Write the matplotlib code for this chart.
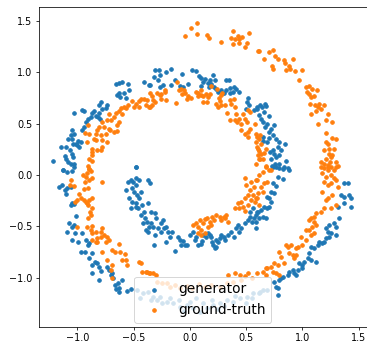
import numpy as np
import matplotlib
matplotlib.use("Agg")
import matplotlib.pyplot as plt

series_labels = ["generator", "ground-truth"]

generator_xy = [
    (-0.661,0.883),(-0.631,0.896),(-0.607,0.906),(-0.548,0.883),(-0.542,0.825),(-0.587,0.802),(-0.631,0.799),
    (-0.646,0.776),(-0.622,0.760),(-0.566,0.753),(-0.406,0.906),(-0.364,0.873),(-0.794,0.711),(-0.809,0.679),
    (-0.735,0.679),(-0.750,0.653),(-0.785,0.646),(-0.809,0.604),(-0.853,0.623),(-0.874,0.604),(-0.839,0.571),
    (-0.883,0.565),(-0.904,0.545),(-0.957,0.630),(-0.942,0.623),(-1.031,0.604),(-0.927,0.516),(-0.942,0.468),
    (-0.957,0.442),(-0.815,0.565),(-0.803,0.549),(-1.046,0.435),(-1.061,0.386),(-1.081,0.354),(-1.046,0.354),
    (-1.031,0.403),(-1.016,0.305),(-0.993,0.331),(-1.001,0.289),(-0.972,0.321),(-0.987,0.273),(-1.040,0.305),
    (-1.105,0.273),(-1.150,0.273),(-1.067,0.240),(-1.046,0.208),(-1.111,0.182),(-1.099,0.159),(-1.081,0.127),
    (-1.061,0.110),(-1.031,0.110),(-1.040,0.175),(-1.215,0.136),(-1.129,0.052),(-0.483,0.078),
    # top arc
    (-0.308,1.019),(-0.276,1.026),(-0.210,1.003),(-0.172,1.029),(-0.320,0.955),(-0.270,0.971),(-0.284,0.922),
    (-0.359,0.880),(-0.270,0.857),(-0.240,0.873),(-0.166,0.880),(-0.130,0.922),(-0.068,0.987),(0.021,1.019),
    (0.056,1.010),(0.077,0.964),(0.101,0.948),(0.130,0.938),(0.175,0.929),(0.204,0.971),(0.219,0.929),
    (0.116,0.906),(0.101,0.867),(0.169,0.857),(0.160,0.896),(0.190,0.883),(0.210,0.857),(0.234,0.841),
    (0.249,0.808),(0.323,0.929),(0.344,0.929),(0.273,0.825),(0.323,0.831),(0.353,0.851),(0.391,0.857),
    (0.412,0.841),(0.433,0.808),(0.302,0.799),(0.353,0.799),(0.382,0.808),(-0.018,0.890),(-0.062,0.857),
    (-0.092,0.864),(0.516,0.753),(0.510,0.711),(0.524,0.685),(0.501,0.646),(0.569,0.630),(0.599,0.662),
    (0.619,0.679),
    # right inner arm
    (0.601,0.646),(0.640,0.662),(0.670,0.695),(0.676,0.669),(0.661,0.614),(0.616,0.581),(0.631,0.549),
    (0.699,0.571),(0.652,0.516),(0.690,0.500),(0.670,0.468),(0.705,0.419),(0.750,0.484),(0.720,0.451),
    (0.741,0.386),(0.705,0.364),(0.690,0.321),(0.652,0.331),(0.764,0.354),(0.788,0.321),(0.779,0.273),
    (0.735,0.247),(0.711,0.224),(0.750,0.208),(0.764,0.175),(0.794,0.192),(0.847,0.305),(0.809,0.240),
    (0.859,0.136),(0.646,0.370),(0.729,0.084),(0.759,0.110),(0.770,0.078),(0.788,0.104),(0.830,0.062),
    (0.877,0.052),(0.720,0.159),
    (0.735,0.081),(0.794,0.071),(0.839,0.081),(0.868,0.071),(0.779,-0.016),(0.830,-0.039),(0.735,-0.081),
    (0.764,-0.104),(0.720,-0.162),(0.750,-0.179),(0.690,-0.211),(0.705,-0.227),(0.720,-0.260),(0.705,-0.308),
    (0.661,-0.308),(0.690,-0.325),(0.631,-0.341),(0.601,-0.357),(0.646,-0.406),(0.676,-0.416),(0.616,-0.422),
    (0.587,-0.455),(0.587,-0.519),
    # left outer arm
    (-1.129,0.049),(-1.090,0.032),(-1.046,0.039),(-1.031,0.081),(-1.164,-0.114),(-1.135,-0.097),(-1.111,-0.146),
    (-1.090,-0.130),(-1.061,-0.114),(-1.105,-0.188),(-1.046,-0.276),(-1.061,-0.292),(-1.031,-0.286),
    (-1.010,-0.396),(-1.076,-0.471),(-1.046,-0.503),(-1.031,-0.487),(-1.090,-0.552),(-1.022,-0.568),
    (-1.046,-0.633),(-0.993,-0.656),(-0.963,-0.568),(-0.927,-0.633),(-0.904,-0.682),(-0.898,-0.666),
    (-0.972,-0.753),(-0.933,-0.753),(-0.874,-0.763),(-0.898,-0.812),(-0.844,-0.844),(-0.824,-0.860),
    (-0.809,-0.893),(-0.868,-0.877),(-0.794,-0.935),(-0.735,-0.893),(-0.720,-0.925),(-0.874,-0.958),
    (-0.809,-1.023),(-0.705,-0.974),(-0.690,-0.958),(-0.684,-1.006),(-0.637,-1.055),(-0.667,-1.071),
    (-0.631,-1.097),(-0.601,-1.023),(-0.655,-1.110),(-0.631,-1.136),(-0.557,-1.130),(-0.527,-1.110),
    # inner start
    (-0.483,0.081),(-0.548,-0.065),(-0.527,-0.049),(-0.507,-0.065),(-0.477,-0.032),(-0.453,-0.049),
    (-0.483,-0.097),(-0.513,-0.130),(-0.566,-0.146),(-0.498,-0.162),(-0.468,-0.195),(-0.439,-0.162),
    (-0.542,-0.227),(-0.513,-0.260),(-0.483,-0.276),(-0.453,-0.227),(-0.424,-0.292),(-0.459,-0.318),
    (-0.409,-0.357),(-0.439,-0.390),(-0.400,-0.422),(-0.379,-0.455),(-0.418,-0.471),(-0.364,-0.503),
    (-0.394,-0.536),(-0.370,-0.552),(-0.483,-0.308),(-0.527,-0.318),
    # inner bottom arc
    (-0.373,-0.049),(-0.359,-0.081),(-0.373,-0.276),(-0.344,-0.357),(-0.314,-0.373),(-0.299,-0.422),
    (-0.350,-0.471),(-0.329,-0.503),(-0.284,-0.519),(-0.261,-0.471),(-0.240,-0.438),(-0.231,-0.519),
    (-0.210,-0.503),(-0.196,-0.552),(-0.255,-0.552),(-0.314,-0.584),(-0.320,-0.682),(-0.210,-0.649),
    (-0.181,-0.601),(-0.160,-0.552),(-0.107,-0.601),(-0.092,-0.633),(-0.062,-0.643),(-0.047,-0.682),
    (-0.136,-0.740),(-0.077,-0.682),(-0.024,-0.682),(-0.003,-0.584),(0.027,-0.552),(0.041,-0.633),
    (0.056,-0.601),(0.071,-0.682),(0.101,-0.675),(0.107,-0.643),(0.116,-0.584),(0.145,-0.601),
    (0.160,-0.568),(0.175,-0.584),(0.190,-0.601),(0.196,-0.649),(0.204,-0.682),(0.219,-0.714),
    (0.234,-0.698),(0.234,-0.633),(0.249,-0.656),(0.264,-0.617),(0.279,-0.584),(0.302,-0.601),
    (0.308,-0.633),(0.338,-0.584),(0.367,-0.552),(0.391,-0.601),(0.412,-0.519),(0.427,-0.487),
    (0.441,-0.552),(0.456,-0.519),(0.486,-0.471),(0.516,-0.438),(0.530,-0.406),(0.551,-0.455),
    (0.569,-0.422),(0.590,-0.390),(0.604,-0.357),(0.560,-0.325),(0.530,-0.357),
    # right outer arm
    (1.372,-0.081),(1.410,-0.081),(1.342,-0.195),(1.372,-0.211),(1.416,-0.195),(1.431,-0.227),(1.372,-0.276),
    (1.431,-0.308),(1.313,-0.308),(1.322,-0.422),(1.283,-0.471),(1.239,-0.487),(1.298,-0.503),(1.209,-0.519),
    (1.224,-0.552),(1.253,-0.568),(1.298,-0.584),(1.239,-0.601),(1.209,-0.617),(1.194,-0.649),(1.150,-0.649),
    (1.179,-0.666),(1.135,-0.682),(1.076,-0.698),(1.105,-0.714),(1.061,-0.763),(1.046,-0.812),(1.076,-0.828),
    (1.120,-0.844),(1.016,-0.844),(1.001,-0.877),(0.972,-0.860),(1.001,-0.909),(0.957,-0.925),(0.913,-0.925),
    (0.883,-0.942),(0.927,-0.958),(0.942,-0.974),(0.868,-0.974),(0.824,-0.990),(0.794,-1.023),(0.809,-1.006),
    (0.750,-1.039),(0.764,-1.088),(0.779,-1.104),(0.779,-1.169),(0.646,-1.120),(0.690,-1.120),(0.616,-1.153),
    # bottom arc (under legend)
    (-0.474,-1.120),(-0.415,-1.153),(-0.370,-1.136),(-0.326,-1.185),(-0.296,-1.218),(-0.267,-1.185),
    (-0.207,-1.234),(-0.148,-1.250),(-0.089,-1.282),(-0.030,-1.266),(0.030,-1.299),(0.089,-1.331),
    (0.148,-1.299),(0.207,-1.266),(0.267,-1.250),(0.326,-1.218),(0.385,-1.234),(0.444,-1.201),
    (0.504,-1.185),(0.563,-1.153),(0.622,-1.136),(-0.44,-1.20),(-0.35,-1.22),(-0.25,-1.25),(-0.18,-1.20),
    (-0.10,-1.22),(0.00,-1.24),(0.05,-1.20),(0.12,-1.25),(0.20,-1.22),(0.30,-1.28),(0.40,-1.18),
    (0.50,-1.25),(0.55,-1.20),(-0.05,-1.32),(0.25,-1.30),
]

ground_truth_xy = [
    # upper-left arc
    (-0.519,0.721),(-0.483,0.695),(-0.453,0.718),(-0.439,0.744),(-0.409,0.744),(-0.379,0.734),(-0.364,0.662),
    (-0.394,0.679),(-0.453,0.662),(-0.498,0.662),(-0.548,0.685),(-0.566,0.653),(-0.587,0.662),(-0.616,0.653),
    (-0.631,0.620),(-0.607,0.597),(-0.661,0.604),(-0.676,0.565),(-0.631,0.516),(-0.646,0.484),(-0.705,0.532),
    (-0.735,0.532),(-0.720,0.597),(-0.779,0.516),(-0.764,0.468),(-0.809,0.468),(-0.824,0.435),(-0.839,0.403),
    (-0.794,0.386),(-0.779,0.338),(-0.750,0.403),(-0.720,0.451),(-0.714,0.435),(-0.676,0.419),(-0.646,0.429),
    (-0.853,0.354),(-0.898,0.403),(-0.904,0.484),(-0.933,0.409),(-0.913,0.321),(-0.839,0.338),(-0.868,0.256),
    (-0.824,0.240),(-0.794,0.240),(-0.779,0.273),(-0.735,0.321),(-0.868,0.224),(-0.898,0.159),(-0.874,0.136),
    (-0.904,0.084),(-0.898,0.062),(-0.868,0.192),
    # outer top
    (-0.047,1.354),(0.006,1.432),(0.065,1.481),(0.065,1.377),(0.154,1.367),(0.169,1.334),(0.273,1.299),
    (0.382,1.399),(0.361,1.334),(0.403,1.328),(0.427,1.351),(0.441,1.321),(0.465,1.344),(0.382,1.273),
    (0.441,1.286),(0.486,1.247),(0.510,1.286),(0.524,1.383),(0.604,1.205),
    # inner top arc
    (-0.359,0.799),(-0.338,0.766),(-0.290,0.799),(-0.329,0.727),(-0.314,0.711),(-0.359,0.662),(-0.338,0.679),
    (-0.270,0.776),(-0.255,0.792),(-0.219,0.808),(-0.225,0.831),(-0.255,0.744),(-0.210,0.727),(-0.121,0.701),
    (-0.113,0.906),(-0.101,0.831),(-0.083,0.841),(-0.053,0.831),(-0.041,0.799),(-0.018,0.766),(-0.068,0.786),
    (-0.024,0.744),(0.006,0.753),(0.050,0.808),(0.071,0.799),(0.095,0.776),(0.071,0.766),(0.116,0.766),
    (0.101,0.825),(0.145,0.786),(0.160,0.760),(0.190,0.864),(0.116,0.711),(0.154,0.711),(0.175,0.786),
    (0.243,0.841),(0.258,0.753),(0.279,0.776),(0.284,0.799),(0.264,0.721),(0.273,0.679),(0.249,0.662),
    (0.234,0.695),(0.308,0.679),(0.353,0.727),(0.391,0.744),(0.367,0.695),(0.397,0.662),(0.332,0.604),
    (0.353,0.532),(0.397,0.539),(0.421,0.516),(0.441,0.549),(0.412,0.597),(0.471,0.597),(0.486,0.549),
    (0.456,0.500),(0.516,0.630),(0.530,0.614),(0.510,0.516),(0.456,0.435),(0.486,0.403),(0.516,0.419),
    (0.530,0.451),(0.516,0.370),(0.575,0.500),(0.590,0.403),(0.619,0.386),(0.590,0.321),(0.604,0.256),
    (0.604,0.192),(0.619,0.159),
    # outer right arm
    (0.610,1.208),(0.661,1.133),(0.705,1.198),(0.741,1.214),(0.759,1.156),(0.779,1.133),(0.729,1.058),
    (0.741,1.036),(0.839,1.123),(0.847,1.091),(0.877,1.058),(0.889,1.036),(0.859,1.019),(0.919,1.127),
    (0.936,1.010),(0.996,1.019),(0.966,0.929),(1.031,0.857),(1.055,0.864),(1.084,0.841),(1.126,0.825),
    (1.037,0.808),(1.061,0.786),(1.076,0.760),(1.105,0.766),(1.067,0.695),(1.114,0.679),(1.135,0.662),
    (1.150,0.695),(1.194,0.685),(1.164,0.646),(1.120,0.623),(1.076,0.597),(1.224,0.591),(1.209,0.532),
    (1.262,0.516),(1.135,0.494),(1.209,0.409),(1.268,0.364),(1.298,0.354),(1.209,0.321),(1.224,0.305),
    (1.239,0.256),(1.194,0.240),(1.283,0.256),(1.233,0.208),(1.253,0.175),(1.209,0.159),(1.268,0.192),
    (1.164,0.127),(1.194,0.110),(1.224,0.094),(1.298,0.127),(1.244,0.127),(1.224,0.045),(1.313,0.084),
    (1.283,0.052),(1.253,0.078),
    # inner right arm
    (0.601,0.370),(0.616,0.354),(0.631,0.305),(0.601,0.273),(0.610,0.234),(0.631,0.208),(0.661,0.214),
    (0.646,0.159),(0.616,0.159),(0.676,0.256),(0.587,0.110),(0.676,0.084),(0.720,0.052),
    (0.676,0.081),(0.705,0.049),(0.646,0.032),(0.616,0.000),(0.601,-0.049),(0.661,-0.081),(0.690,-0.065),
    (0.631,-0.114),(0.646,-0.162),(0.601,-0.227),(0.616,-0.292),
    (0.486,-0.032),(0.501,-0.097),(0.530,-0.146),(0.545,-0.065),(0.516,-0.195),(0.492,-0.227),(0.456,-0.260),
    (0.427,-0.276),(0.403,-0.325),(0.441,-0.325),(0.471,-0.308),(0.486,-0.351),(0.516,-0.292),(0.545,-0.244),
    (0.560,-0.195),(0.575,-0.260),(0.590,-0.227),(0.604,-0.179),(0.569,-0.114),(0.590,-0.049),
    # inner bottom cluster
    (0.027,-0.487),(0.056,-0.471),(0.071,-0.503),(0.086,-0.438),(0.116,-0.471),(0.136,-0.429),(0.154,-0.416),
    (0.175,-0.455),(0.196,-0.406),(0.213,-0.438),(0.234,-0.390),(0.264,-0.406),(0.279,-0.438),(0.302,-0.406),
    (0.314,-0.422),(0.323,-0.390),(0.338,-0.455),(0.101,-0.536),(0.130,-0.568),(0.095,-0.584),(0.071,-0.568),
    (0.160,-0.503),(0.190,-0.487),
    # left arm lower
    (-0.898,0.058),(-0.883,0.039),(-0.913,0.016),(-0.951,0.000),(-0.921,-0.016),(-0.898,-0.049),(-0.933,-0.071),
    (-0.868,-0.032),(-1.061,-0.049),(-1.070,-0.097),(-1.031,-0.104),(-0.942,-0.136),(-0.904,-0.130),
    (-0.987,-0.188),(-0.972,-0.227),(-1.001,-0.244),(-1.022,-0.266),(-0.942,-0.244),(-0.927,-0.266),
    (-0.898,-0.244),(-0.874,-0.221),(-0.913,-0.276),(-0.904,-0.292),(-0.868,-0.325),(-0.892,-0.357),
    (-0.883,-0.390),(-0.904,-0.416),(-0.779,-0.065),(-1.001,-0.503),(-0.913,-0.503),(-0.868,-0.494),
    (-0.883,-0.536),(-0.868,-0.568),(-0.839,-0.552),(-0.794,-0.552),(-0.779,-0.519),(-0.764,-0.584),
    (-0.735,-0.601),(-0.794,-0.601),(-0.824,-0.610),(-0.839,-0.649),(-0.868,-0.633),(-0.824,-0.656),
    (-0.750,-0.649),(-0.720,-0.633),(-0.631,-0.675),(-0.690,-0.731),(-0.667,-0.753),(-0.622,-0.753),
    (-0.578,-0.773),(-0.779,-0.753),(-0.735,-0.828),(-0.696,-0.877),(-0.607,-0.828),(-0.566,-0.828),
    (-0.557,-0.877),(-0.705,-0.925),(-0.696,-1.000),(-0.453,-0.844),(-0.439,-0.860),(-0.424,-0.942),
    (-0.394,-0.948),(-0.364,-0.958),(-0.385,-0.942),(-0.356,-0.951),(-0.326,-0.958),(-0.302,-0.974),
    # bottom arc (under legend)
    (-0.296,-1.039),(-0.252,-1.055),(-0.207,-1.049),(-0.178,-1.088),(-0.133,-1.071),(-0.089,-1.104),
    (-0.030,-1.080),(0.020,-1.100),(0.080,-1.060),(0.130,-1.090),(0.190,-1.070),(0.267,-1.088),
    (0.326,-1.055),(0.341,-0.974),(0.400,-0.958),(0.444,-0.974),(0.489,-0.984),(0.519,-0.958),
    (0.385,-1.040),(0.450,-1.020),(0.550,-1.000),(0.681,-0.909),
    # outer right lower
    (1.164,0.081),(1.194,0.065),(1.224,0.081),(1.298,0.081),(1.173,0.016),(1.209,-0.016),(1.253,0.000),
    (1.283,-0.032),(1.298,-0.049),(1.194,-0.065),(1.224,-0.097),(1.253,-0.081),(1.313,-0.114),(1.179,-0.162),
    (1.224,-0.227),(1.209,-0.244),(1.268,-0.195),(1.298,-0.292),(1.253,-0.325),(1.194,-0.325),(1.164,-0.357),
    (1.120,-0.373),(1.105,-0.406),(1.076,-0.422),(1.061,-0.438),(1.105,-0.455),(1.120,-0.487),(1.090,-0.503),
    (1.061,-0.536),(1.105,-0.568),(1.076,-0.584),(1.031,-0.536),(0.987,-0.601),(1.031,-0.633),(0.999,-0.682),
    (0.957,-0.698),(0.942,-0.714),(0.898,-0.682),(0.868,-0.698),(0.853,-0.682),(0.913,-0.779),(0.883,-0.763),
    (0.942,-0.779),(0.927,-0.812),(0.794,-0.747),(0.809,-0.795),(0.839,-0.860),(0.750,-0.860),(0.779,-0.877),
    (0.720,-0.893),(0.690,-0.909),(0.735,-0.942),(0.764,-0.958),(0.676,-0.974),(0.794,-0.974),(0.646,-0.948),
    (0.601,-0.958),
]

gen_x = np.array([p[0] for p in generator_xy])
gen_y = np.array([p[1] for p in generator_xy])
gt_x = np.array([p[0] for p in ground_truth_xy])
gt_y = np.array([p[1] for p in ground_truth_xy])

x_limits = (-1.342, 1.571)
y_limits = (-1.477, 1.639)
x_ticks = [-1.0, -0.5, 0.0, 0.5, 1.0, 1.5]
y_ticks = [-1.0, -0.5, 0.0, 0.5, 1.0, 1.5]

dpi = 69
fig = plt.figure(figsize=(367 / dpi, 344 / dpi), dpi=dpi)
ax = fig.add_axes([0.1063, 0.0503, 0.8925, 0.9302])
ax.scatter(gen_x, gen_y, s=14, color="#1f77b4", label=series_labels[0])
ax.scatter(gt_x, gt_y, s=14, color="#ff7f0e", label=series_labels[1])
ax.set_xlim(*x_limits)
ax.set_ylim(*y_limits)
ax.set_xticks(x_ticks)
ax.set_yticks(y_ticks)
ax.legend(loc="lower center", fontsize="x-large", borderaxespad=0.3)
fig.savefig("out.png", dpi=dpi)
